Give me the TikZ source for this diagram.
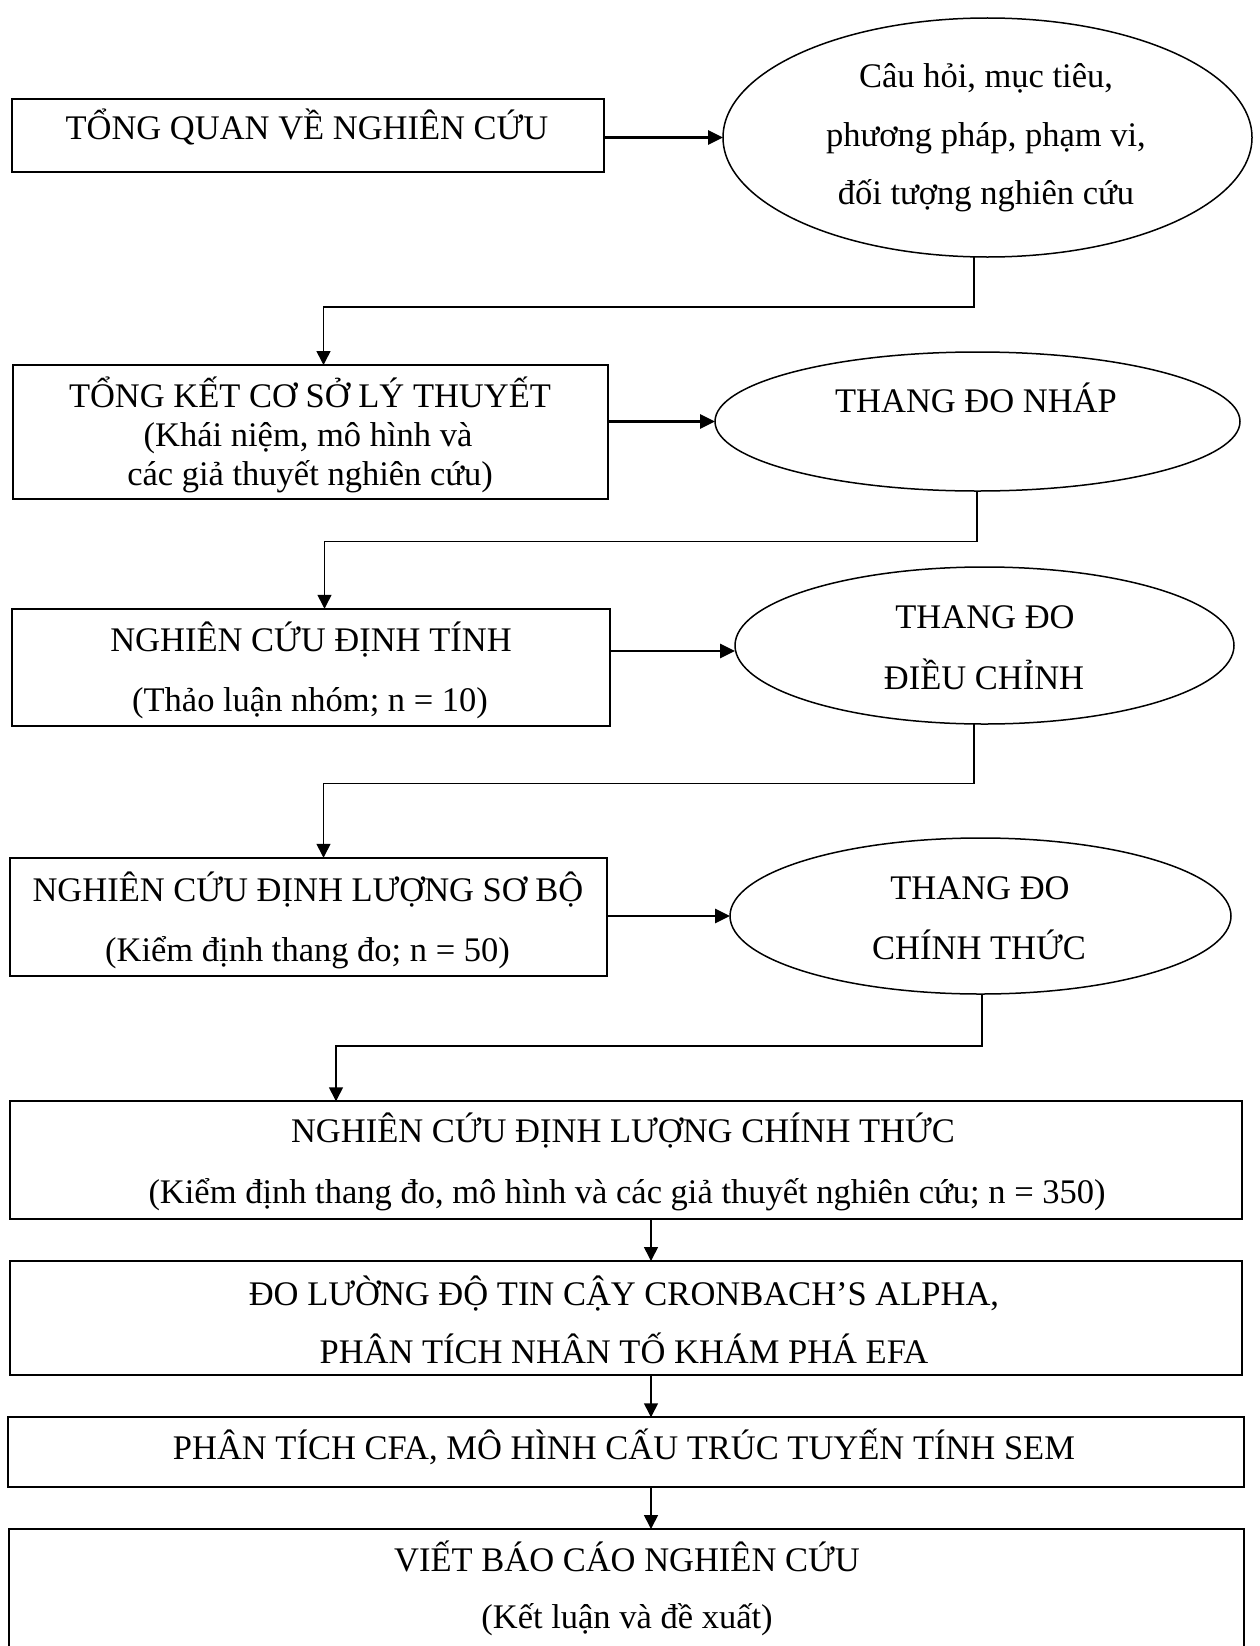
\documentclass[tikz,border=0pt]{standalone}
\usepackage{fontspec}
\setmainfont{Liberation Serif}
\usetikzlibrary{arrows.meta,shapes.geometric}
\begin{document}
\begin{tikzpicture}[x=1pt,y=-1pt,
  box/.style={draw, line width=2pt, rectangle, inner sep=0pt, outer sep=0pt},
  oval/.style={draw, line width=1.5pt, ellipse, inner sep=0pt, outer sep=0pt},
  txt/.style={anchor=base, inner sep=0pt, outer sep=0pt, font=\fontsize{34.5}{40}\selectfont},
  link/.style={line width=1.6pt, -{Triangle[length=14pt,width=14pt]}},
  push/.style={line width=2.8pt, -{Triangle[length=15pt,width=14pt]}},
]
\useasboundingbox (0,0) rectangle (1259,1646);

% ---- left column boxes and right column ovals ----
\node[box, minimum width=592pt, minimum height=73pt]   (b1) at (308,135.5) {};
\node[oval, minimum width=529pt, minimum height=239pt] (e1) at (987.5,137.5) {};
\node[box, minimum width=595pt, minimum height=134pt]  (b2) at (310.5,432) {};
\node[oval, minimum width=525pt, minimum height=139pt] (e2) at (977.5,421.5) {};
\node[box, minimum width=598pt, minimum height=117.5pt] (b3) at (311,667.5) {};
\node[oval, minimum width=499pt, minimum height=157pt] (e3) at (984.5,645.5) {};
\node[box, minimum width=597pt, minimum height=118.5pt] (b4) at (308.5,917) {};
\node[oval, minimum width=501pt, minimum height=156pt] (e4) at (980.5,916) {};

% ---- full-width boxes ----
\node[box, minimum width=1232pt, minimum height=117.5pt] (b5) at (626,1160) {};
\node[box, minimum width=1232pt, minimum height=114pt]   (b6) at (626,1318) {};
\node[box, minimum width=1236pt, minimum height=69.5pt]  (b7) at (626,1452) {};
\node[box, minimum width=1235pt, minimum height=151pt]   (b8) at (626.5,1604.5) {};

% ---- texts ----
\node[txt] (t1)  at (307,139)   {TỔNG QUAN VỀ NGHIÊN CỨU};
\node[txt] (u1a) at (986,88)    {Câu hỏi, mục tiêu,};
\node[txt] (u1b) at (986,146.5) {phương pháp, phạm vi,};
\node[txt] (u1c) at (986,204)   {đối tượng nghiên cứu};
\node[txt] (t2a) at (310,407)   {TỔNG KẾT CƠ SỞ LÝ THUYẾT};
\node[txt] (t2b) at (308,446)   {(Khái niệm, mô hình và};
\node[txt] (t2c) at (310,485)   {các giả thuyết nghiên cứu)};
\node[txt] (u2)  at (976,412)   {THANG ĐO NHÁP};
\node[txt] (t3a) at (311,651)   {NGHIÊN CỨU ĐỊNH TÍNH};
\node[txt] (t3b) at (310,711)   {(Thảo luận nhóm; n = 10)};
\node[txt] (u3a) at (985,628.5) {THANG ĐO};
\node[txt] (u3b) at (984,689)   {ĐIỀU CHỈNH};
\node[txt] (t4a) at (308,901)   {NGHIÊN CỨU ĐỊNH LƯỢNG SƠ BỘ};
\node[txt] (t4b) at (307.5,961) {(Kiểm định thang đo; n = 50)};
\node[txt] (u4a) at (980,899.5) {THANG ĐO};
\node[txt] (u4b) at (979,959.5) {CHÍNH THỨC};
\node[txt] (t5a) at (623,1142.5) {NGHIÊN CỨU ĐỊNH LƯỢNG CHÍNH THỨC};
\node[txt] (t5b) at (627,1203)   {(Kiểm định thang đo, mô hình và các giả thuyết nghiên cứu; n = 350)};
\node[txt] (t6a) at (624,1305)   {ĐO LƯỜNG ĐỘ TIN CẬY CRONBACH’S ALPHA,};
\node[txt] (t6b) at (624,1363)   {PHÂN TÍCH NHÂN TỐ KHÁM PHÁ EFA};
\node[txt] (t7)  at (624,1459.5) {PHÂN TÍCH CFA, MÔ HÌNH CẤU TRÚC TUYẾN TÍNH SEM};
\node[txt] (t8a) at (627,1571.5) {VIẾT BÁO CÁO NGHIÊN CỨU};
\node[txt] (t8b) at (627,1628)   {(Kết luận và đề xuất)};

% ---- box to oval arrows ----
\draw[push] (b1.east |- e1.west) -- (e1.west);
\draw[push] (b2.east |- e2.west) -- (e2.west);
\coordinate (a3) at (0,651);
\draw[push] (b3.east |- a3) -- (e3.west |- a3);
\draw[push] (b4.east |- e4.west) -- (e4.west);

% ---- oval to next box elbow connectors ----
\coordinate (k1) at (974,307);   \coordinate (j1) at (323.5,307);
\draw[link] (e1.south -| k1) -- (k1) -- (j1) -- (b2.north -| j1);
\coordinate (k2) at (977,541.5); \coordinate (j2) at (324.5,541.5);
\draw[link] (e2.south -| k2) -- (k2) -- (j2) -- (b3.north -| j2);
\coordinate (k3) at (974,783.5); \coordinate (j3) at (323.5,783.5);
\draw[link] (e3.south -| k3) -- (k3) -- (j3) -- (b4.north -| j3);
\coordinate (k4) at (982,1046);  \coordinate (j4) at (336,1046);
\draw[link] (e4.south -| k4) -- (k4) -- (j4) -- (b5.north -| j4);

% ---- vertical chain of the lower boxes ----
\coordinate (mid) at (651,0);
\draw[link] (b5.south -| mid) -- (b6.north -| mid);
\draw[link] (b6.south -| mid) -- (b7.north -| mid);
\draw[link] (b7.south -| mid) -- (b8.north -| mid);
\end{tikzpicture}
\end{document}
